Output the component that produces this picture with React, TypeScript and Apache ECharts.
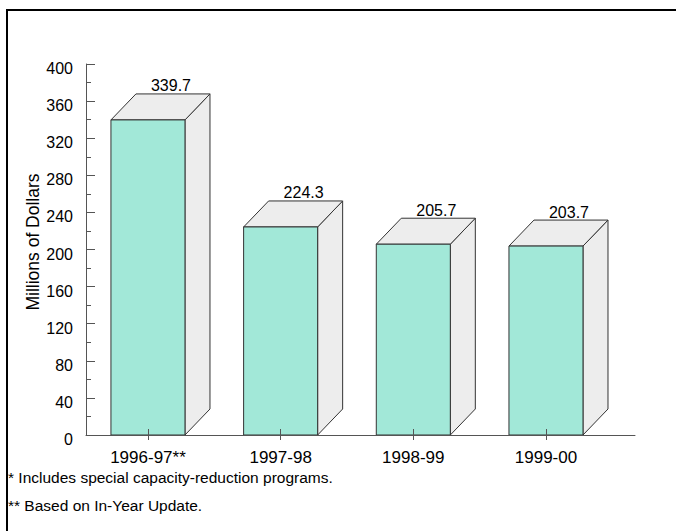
import React, { useEffect, useRef } from "react";
import * as echarts from "echarts";

const categories = ["1996-97**", "1997-98", "1998-99", "1999-00"];
const values = [339.7, 224.3, 205.7, 203.7];
const yMin = 0;
const yMax = 400;
const yInterval = 40;
const yAxisTitle = "Millions of Dollars";
const footnotes = [
  "* Includes special capacity-reduction programs.",
  "** Based on In-Year Update.",
];

const FONT = "'Liberation Sans', Arial, Helvetica, sans-serif";
const FRONT = "#A2E8D8";
const SIDE = "#EDEDED";
const EDGE = "#333333";
const AXIS = "#555555";
const BAR_W = 0.558;
const DEPTH_X = 25;
const DEPTH_Y = 26;
const X_MIN = -0.467;
const X_MAX = 3.671;

export default function App() {
  const ref = useRef<HTMLDivElement>(null);
  useEffect(() => {
    if (!ref.current) return;
    const chart = echarts.init(ref.current, null, { renderer: "svg" });
    const idx = categories.map((_, i) => i);
    chart.setOption({
      animation: false,
      backgroundColor: "#ffffff",
      textStyle: { fontFamily: FONT },
      grid: { left: 86, right: 41, top: 64, bottom: 96 },
      xAxis: [
        {
          type: "value",
          position: "bottom",
          min: X_MIN,
          max: X_MAX,
          z: 10,
          axisLine: { show: true, onZero: false, lineStyle: { color: AXIS, width: 1 } },
          axisTick: {
            show: true,
            inside: true,
            length: 6,
            customValues: idx,
            lineStyle: { color: AXIS },
          },
          axisLabel: {
            show: true,
            customValues: idx,
            formatter: (v: number) => categories[Math.round(v)] ?? "",
            margin: 14,
            fontSize: 17,
            color: "#000",
            fontFamily: FONT,
          },
          splitLine: { show: false },
        },
        {
          type: "value",
          position: "bottom",
          min: X_MIN,
          max: X_MAX,
          z: 10,
          axisLine: { show: false, onZero: false },
          axisTick: {
            show: true,
            inside: false,
            length: 5,
            customValues: idx,
            lineStyle: { color: AXIS },
          },
          axisLabel: { show: false },
          splitLine: { show: false },
        },
      ],
      yAxis: {
        type: "value",
        position: "left",
        min: yMin,
        max: yMax,
        interval: yInterval,
        name: yAxisTitle,
        nameLocation: "middle",
        nameGap: 44,
        nameMoveOverlap: false,
        z: 10,
        nameTextStyle: {
          fontSize: 17.5,
          color: "#000",
          fontFamily: FONT,
          padding: [0, 0, 0, 15],
        },
        axisLine: { show: true, onZero: false, lineStyle: { color: AXIS } },
        axisTick: { show: true, inside: true, length: 9, lineStyle: { color: AXIS } },
        minorTick: { show: true, splitNumber: 2, length: 5, lineStyle: { color: AXIS } },
        axisLabel: {
          margin: 13,
          fontSize: 16,
          color: "#000",
          fontFamily: FONT,
          formatter: "{v|{value}}",
          rich: {
            v: {
              fontSize: 16,
              fontFamily: FONT,
              color: "#000",
              padding: [9, 0, 0, 0],
            },
          },
        },
        splitLine: { show: false },
      },
      series: [
        {
          type: "custom",
          xAxisIndex: 0,
          yAxisIndex: 0,
          data: values.map((v, i) => [i, v]),
          z: 2,
          renderItem: (params: any, api: any) => {
            const i = api.value(0);
            const v = api.value(1);
            const top = api.coord([i, v]);
            const base = api.coord([i, 0]);
            const w = api.size([BAR_W, 0])[0];
            const x0 = top[0] - w / 2;
            const x1 = top[0] + w / 2;
            const yT = top[1];
            const yB = base[1];
            return {
              type: "group",
              children: [
                {
                  type: "polygon",
                  shape: {
                    points: [
                      [x1, yT],
                      [x1 + DEPTH_X, yT - DEPTH_Y],
                      [x1 + DEPTH_X, yB - DEPTH_Y],
                      [x1, yB],
                    ],
                  },
                  style: { fill: SIDE, stroke: EDGE, lineWidth: 1 },
                },
                {
                  type: "polygon",
                  shape: {
                    points: [
                      [x0, yT],
                      [x1, yT],
                      [x1 + DEPTH_X, yT - DEPTH_Y],
                      [x0 + DEPTH_X, yT - DEPTH_Y],
                    ],
                  },
                  style: { fill: SIDE, stroke: EDGE, lineWidth: 1 },
                },
                {
                  type: "rect",
                  shape: { x: x0, y: yT, width: w, height: yB - yT },
                  style: { fill: FRONT, stroke: EDGE, lineWidth: 1 },
                },
                {
                  type: "text",
                  x: top[0] + DEPTH_X - 2,
                  y: yT - DEPTH_Y,
                  style: {
                    text: v.toFixed(1),
                    align: "center",
                    verticalAlign: "bottom",
                    fontSize: 16,
                    fontFamily: FONT,
                    fill: "#000",
                  },
                },
              ],
            };
          },
        },
      ],
      graphic: [
        {
          type: "rect",
          silent: true,
          shape: { x: 7, y: 10, width: 800, height: 700 },
          style: { fill: "none", stroke: "#000", lineWidth: 2 },
        },
        ...footnotes.map((t, k) => ({
          type: "text",
          x: 8,
          y: 477.5 + k * 27.5,
          style: {
            text: t,
            align: "left",
            verticalAlign: "middle",
            fontSize: 15.5,
            fontFamily: FONT,
            fill: "#000",
          },
        })),
      ],
    });
    return () => chart.dispose();
  }, []);
  return (
    <div
      ref={ref}
      style={{ position: "fixed", left: 0, top: 0, width: 676, height: 531 }}
    />
  );
}
